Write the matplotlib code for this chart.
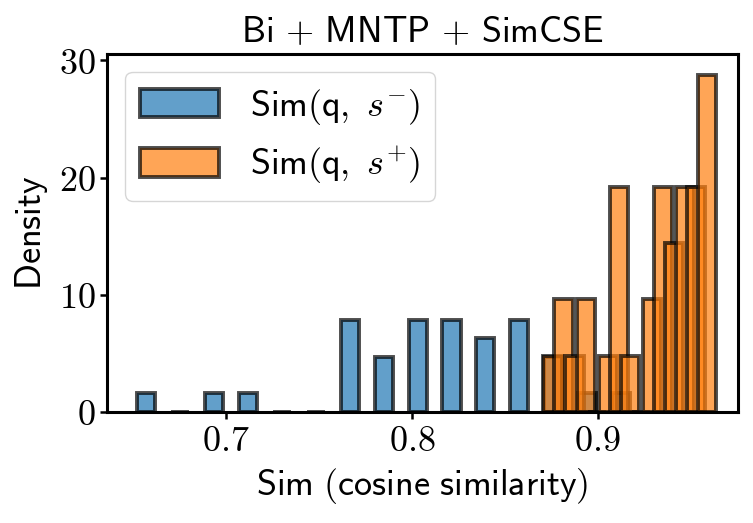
import matplotlib
matplotlib.use("Agg")
import matplotlib.pyplot as plt
from matplotlib.ticker import FuncFormatter

plt.rcParams['mathtext.fontset'] = 'cm'
plt.rcParams['font.family'] = ['DejaVu Sans']

# ---- data ----
neg_centers = [0.6570, 0.6753, 0.6935, 0.7118, 0.7300, 0.7483, 0.7666, 0.7848,
               0.8031, 0.8214, 0.8396, 0.8579, 0.8761, 0.8944, 0.9126]
neg_density = [1.56, 0.0, 1.56, 1.56, 0.0, 0.0, 7.82, 4.69,
               7.82, 7.82, 6.26, 7.82, 4.69, 1.56, 1.56]

pos_centers = [0.8757, 0.8817, 0.8876, 0.8936, 0.8995, 0.9055, 0.9114, 0.9174,
               0.9234, 0.9293, 0.9353, 0.9412, 0.9472, 0.9531, 0.9591]
pos_density = [4.80, 9.59, 4.80, 9.59, 0.0, 4.80, 19.18, 4.80,
               0.0, 9.59, 19.18, 14.39, 19.18, 19.18, 28.77]

x_ticks = [0.7, 0.8, 0.9]
y_ticks = [0, 10, 20, 30]

title = r'$\mathsf{Bi}\,+\,\mathsf{MNTP}\,+\,\mathsf{SimCSE}$'
xlabel = r'$\mathsf{Sim\ (cosine\ similarity)}$'
ylabel = r'$\mathsf{Density}$'
neg_label = r'$\mathsf{Sim(q,}\ s^{-}\mathsf{)}$'
pos_label = r'$\mathsf{Sim(q,}\ s^{+}\mathsf{)}$'

FS = 26

fig = plt.figure(figsize=(7.53, 5.23), dpi=100)
ax = fig.add_axes([0.1425, 0.2128, 0.980 - 0.1425, 0.8967 - 0.2128])

ax.bar(neg_centers, neg_density, width=0.0098, color='tab:blue', alpha=0.7,
       edgecolor='black', linewidth=2.8, label=neg_label)
ax.bar(pos_centers, pos_density, width=0.0098, color='tab:orange', alpha=0.7,
       edgecolor='black', linewidth=2.8, label=pos_label)

ax.set_xlim(0.636, 0.9756)
ax.set_ylim(0, 30.55)
ax.set_xticks(x_ticks)
ax.set_yticks(y_ticks)
ax.xaxis.set_major_formatter(FuncFormatter(lambda v, p: r'$%.1f$' % v))
ax.yaxis.set_major_formatter(FuncFormatter(lambda v, p: r'$%d$' % v))
ax.tick_params(axis='both', labelsize=FS, length=5, width=1.8)

for s in ax.spines.values():
    s.set_linewidth(2.2)

ax.set_title(title, fontsize=FS, pad=9)
ax.set_xlabel(xlabel, fontsize=FS, labelpad=6)
ax.set_ylabel(ylabel, fontsize=FS, labelpad=6)

ax.legend(loc='upper left', fontsize=FS, handlelength=2.2, handleheight=0.85,
          handletextpad=0.85, borderpad=0.4, labelspacing=0.5)

fig.savefig('out.png', dpi=100)
